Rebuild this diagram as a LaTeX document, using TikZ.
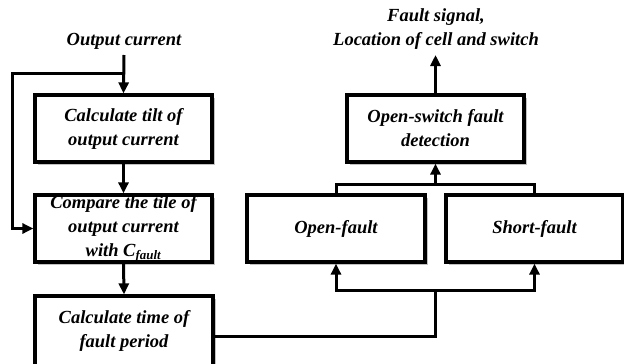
\documentclass[tikz,border=0pt]{standalone}
\usepackage{fontspec}
\setmainfont{Liberation Serif}
\usetikzlibrary{arrows.meta,shadows,calc}
\begin{document}
\begin{tikzpicture}[x=1pt,y=-1pt,
  every node/.style={font=\fontsize{18.5}{24}\selectfont\bfseries\itshape, align=center, inner sep=0pt},
  box/.style={draw, line width=3.2pt, fill=white, minimum width=177pt, minimum height=67pt,
    drop shadow={shadow xshift=3pt, shadow yshift=-3pt, fill=black!40, opacity=0.6}},
  conn/.style={line width=3pt},
  arr/.style={conn, -{Triangle[length=11pt,width=10pt]}}]
\useasboundingbox (0,0) rectangle (624,364);
\node (oc) at (124,41) {Output current};
\node (fs) at (436,29) {Fault signal,\\Location of cell and switch};
\node[box] (b1) at (123.5,128.5) {Calculate tilt of\\output current};
\node[box] (b2) at (123.5,228.5) {Compare the tile of\\output current\\with C\textsubscript{fault}};
\node[box, minimum width=178pt, minimum height=70pt] (b3) at (124,331) {Calculate time of\\fault period};
\node[box] (b4) at (435.5,128.5) {Open-switch fault\\detection};
\node[box, minimum width=178pt] (of) at (336,228.5) {Open-fault};
\node[box] (sf) at (534.5,228.5) {Short-fault};
\coordinate (ocs) at (124,55);
\coordinate (fb) at (124,73);
\coordinate (j1) at (435.5,290);
\coordinate (j2) at (435.5,184);
\coordinate (fst) at (435.5,55);
\draw[arr] (ocs) -- (b1.north);
\draw[arr] (fb) -- (12,73) |- (b2.west);
\draw[arr] (b1.south) -- (b2.north);
\draw[arr] (b2.south) -- (b3.north);
\draw[conn] ([yshift=-5pt]b3.east) -| (j1);
\draw[arr] (j1) -| (of.south);
\draw[arr] (j1) -| (sf.south);
\draw[conn] (of.north) |- (j2);
\draw[conn] (sf.north) |- (j2);
\draw[arr] (j2) -- (b4.south);
\draw[arr] (b4.north) -- (fst);
\end{tikzpicture}
\end{document}
